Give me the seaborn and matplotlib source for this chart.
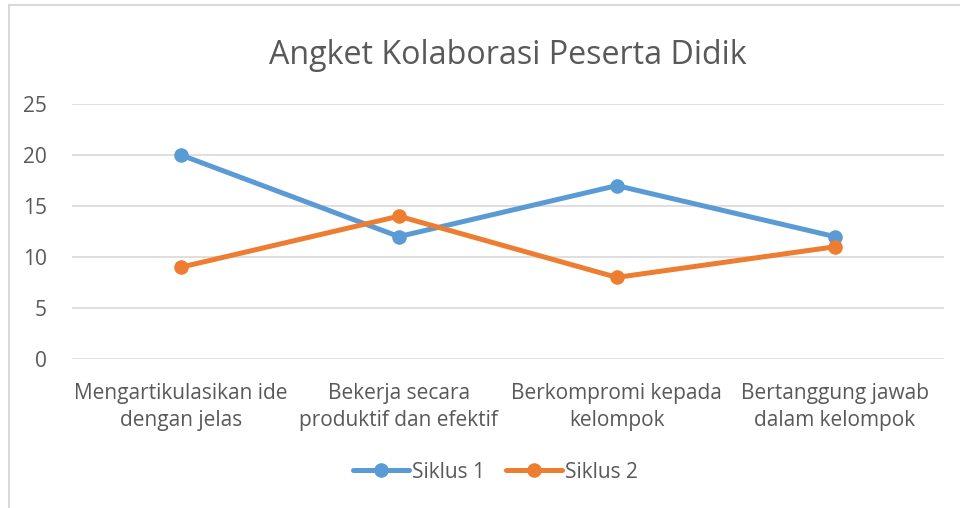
import matplotlib
matplotlib.use("Agg")
import matplotlib.pyplot as plt
import matplotlib.patches as mpatches
import pandas as pd
import seaborn as sns

categories = [
    "Mengartikulasikan ide\ndengan jelas",
    "Bekerja secara\nproduktif dan efektif",
    "Berkompromi kepada\nkelompok",
    "Bertanggung jawab\ndalam kelompok",
]
siklus_1 = [20, 12, 17, 12]
siklus_2 = [9, 14, 8, 11]
series_names = ["Siklus 1", "Siklus 2"]
colors = ["#5b9bd5", "#ed7d31"]
y_ticks = [0, 5, 10, 15, 20, 25]

df = pd.DataFrame({
    "kategori": categories * 2,
    "nilai": siklus_1 + siklus_2,
    "siklus": [series_names[0]] * 4 + [series_names[1]] * 4,
})

sns.set_style("white")
plt.rcParams["font.family"] = ["Open Sans", "DejaVu Sans"]
text_color = "#595959"

fig = plt.figure(figsize=(9.6, 5.08), dpi=100)
ax = fig.add_axes([0.075, 0.2933, 0.908, 0.502])

sns.lineplot(
    data=df, x="kategori", y="nilai", hue="siklus", palette=colors,
    marker="o", markersize=10.5, markeredgewidth=0, linewidth=3.6,
    sort=False, ax=ax,
)

ax.set_xlim(-0.5, 3.5)
ax.set_ylim(0, 25)
ax.set_yticks(y_ticks)
ax.grid(axis="y", color="#d9d9d9", linewidth=1.2)
ax.set_axisbelow(True)
for s in ax.spines.values():
    s.set_visible(False)
ax.tick_params(axis="both", length=0, labelsize=15, colors=text_color)
ax.tick_params(axis="x", pad=17)
ax.tick_params(axis="y", pad=18)
for lbl in ax.get_xticklabels():
    lbl.set_linespacing(1.4)
ax.set_xlabel("")
ax.set_ylabel("")
ax.set_title("Angket Kolaborasi Peserta Didik", fontsize=23.2, color=text_color, pad=29)

handles, labels = ax.get_legend_handles_labels()
ax.legend(
    handles, labels, loc="center", bbox_to_anchor=(0.516, (508 - 472) / 508),
    bbox_transform=fig.transFigure, ncol=2, frameon=False, fontsize=15,
    labelcolor=text_color, handlelength=2.7, handletextpad=0.15, columnspacing=1.0,
)

# chart border (cropped on right and bottom)
fig.patches.append(mpatches.Rectangle(
    (9 / 960, -0.1), 1.2, 1 - 5 / 508 + 0.1, transform=fig.transFigure,
    fill=False, edgecolor="#d9d9d9", linewidth=1.5,
))

fig.savefig("out.png", dpi=100)
